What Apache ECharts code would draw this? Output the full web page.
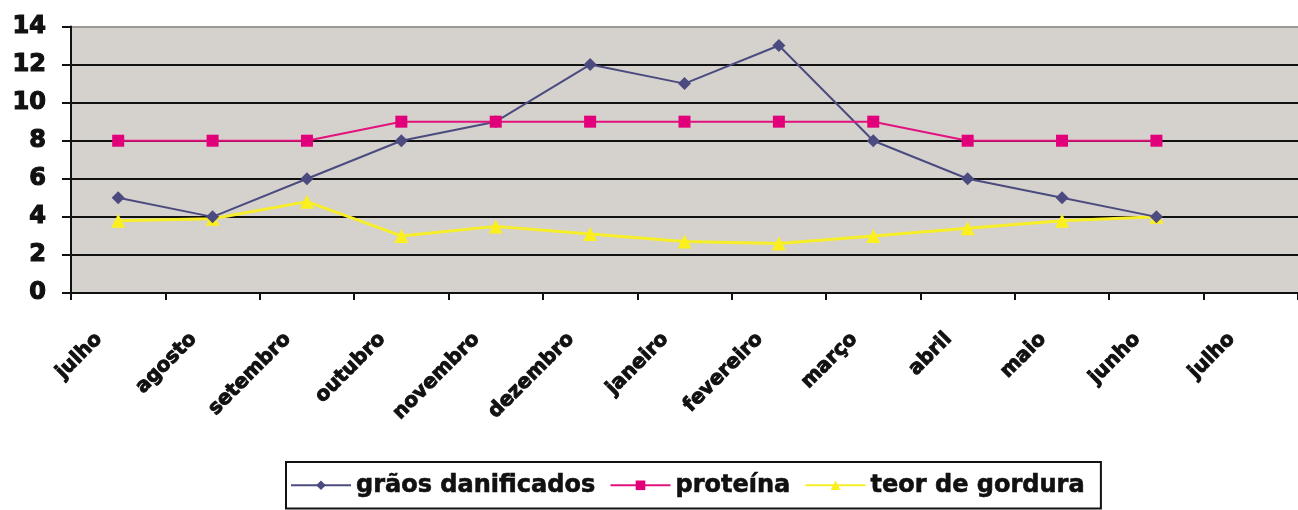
<!DOCTYPE html>
<html>
<head>
<meta charset="utf-8">
<script src="https://cdn.jsdelivr.net/npm/echarts@6/dist/echarts.min.js"></script>
<style>
  html, body { margin: 0; padding: 0; background: #fff; }
  #chart { width: 1298px; height: 510px; }
</style>
</head>
<body>
<div id="chart"></div>
<script>
// Months of the crop year (12 with data, closing label for next July)
const months = ['julho', 'agosto', 'setembro', 'outubro', 'novembro', 'dezembro',
  'janeiro', 'fevereiro', 'março', 'abril', 'maio', 'junho', 'julho'];

const graosDanificados = [5, 4, 6, 8, 9, 12, 11, 13, 8, 6, 5, 4];
const proteina = [8, 8, 8, 9, 9, 9, 9, 9, 9, 8, 8, 8];
const teorGordura = [3.8, 3.9, 4.8, 3.0, 3.5, 3.1, 2.7, 2.6, 3.0, 3.4, 3.8, 4.0];

const seriesNames = ['grãos danificados', 'proteína', 'teor de gordura'];
const yTicks = { min: 0, max: 14, step: 2 };

const chart = echarts.init(document.getElementById('chart'), null, { renderer: 'canvas' });

const heavy = 'DejaVu Sans';
const ink = '#111111';

chart.setOption({
  animation: false,
  backgroundColor: '#ffffff',
  grid: {
    left: 71, top: 26.5, width: 1231, height: 266.5,
    show: true, backgroundColor: '#d5d1cd', borderWidth: 0
  },
  legend: {
    data: seriesNames,
    left: 286, top: 462,
    orient: 'horizontal',
    backgroundColor: '#ffffff',
    borderColor: ink,
    borderWidth: 2,
    borderRadius: 0,
    padding: [11, 16, 11, 4],
    itemWidth: 60, itemHeight: 12, itemGap: 14,
    textStyle: {
      fontFamily: heavy, fontWeight: 'bold', fontSize: 24, color: ink,
      textBorderColor: ink, textBorderWidth: 0.6
    }
  },
  xAxis: {
    type: 'category',
    data: months,
    boundaryGap: true,
    axisLine: { show: true, lineStyle: { color: ink, width: 2 } },
    axisTick: { show: true, length: 7, lineStyle: { color: ink, width: 2 } },
    splitLine: { show: false },
    axisLabel: {
      interval: 0, rotate: 45, margin: 24,
      padding: [0, 27, 0, 0],
      fontFamily: heavy, fontWeight: 'bold', fontSize: 20, color: ink,
      textBorderColor: ink, textBorderWidth: 1
    }
  },
  yAxis: {
    type: 'value',
    min: yTicks.min, max: yTicks.max, interval: yTicks.step,
    axisLine: { show: true, lineStyle: { color: ink, width: 2 } },
    axisTick: { show: true, length: 9, lineStyle: { color: ink, width: 2 } },
    splitLine: {
      show: true,
      lineStyle: {
        color: [ink, ink, ink, ink, ink, ink, ink, '#9c9a98'],
        width: 2
      }
    },
    axisLabel: {
      margin: 25,
      fontFamily: heavy, fontWeight: 'bold', fontSize: 24, color: ink,
      textBorderColor: ink, textBorderWidth: 1.2
    }
  },
  series: [
    {
      name: seriesNames[0], type: 'line', data: graosDanificados,
      symbol: 'diamond', symbolSize: 13,
      color: '#4b4b80',
      lineStyle: { color: '#4b4b80', width: 2 },
      itemStyle: { color: '#4b4b80' },
      z: 3
    },
    {
      name: seriesNames[1], type: 'line', data: proteina,
      symbol: 'rect', symbolSize: 12,
      color: '#e2007a',
      lineStyle: { color: '#e2127f', width: 2 },
      itemStyle: { color: '#e2007a' },
      z: 4
    },
    {
      name: seriesNames[2], type: 'line', data: teorGordura,
      symbol: 'triangle', symbolSize: 14,
      color: '#fbf01e',
      lineStyle: { color: '#f7ee2a', width: 3 },
      itemStyle: { color: '#fbf01e' },
      z: 2
    }
  ]
});
</script>
</body>
</html>
